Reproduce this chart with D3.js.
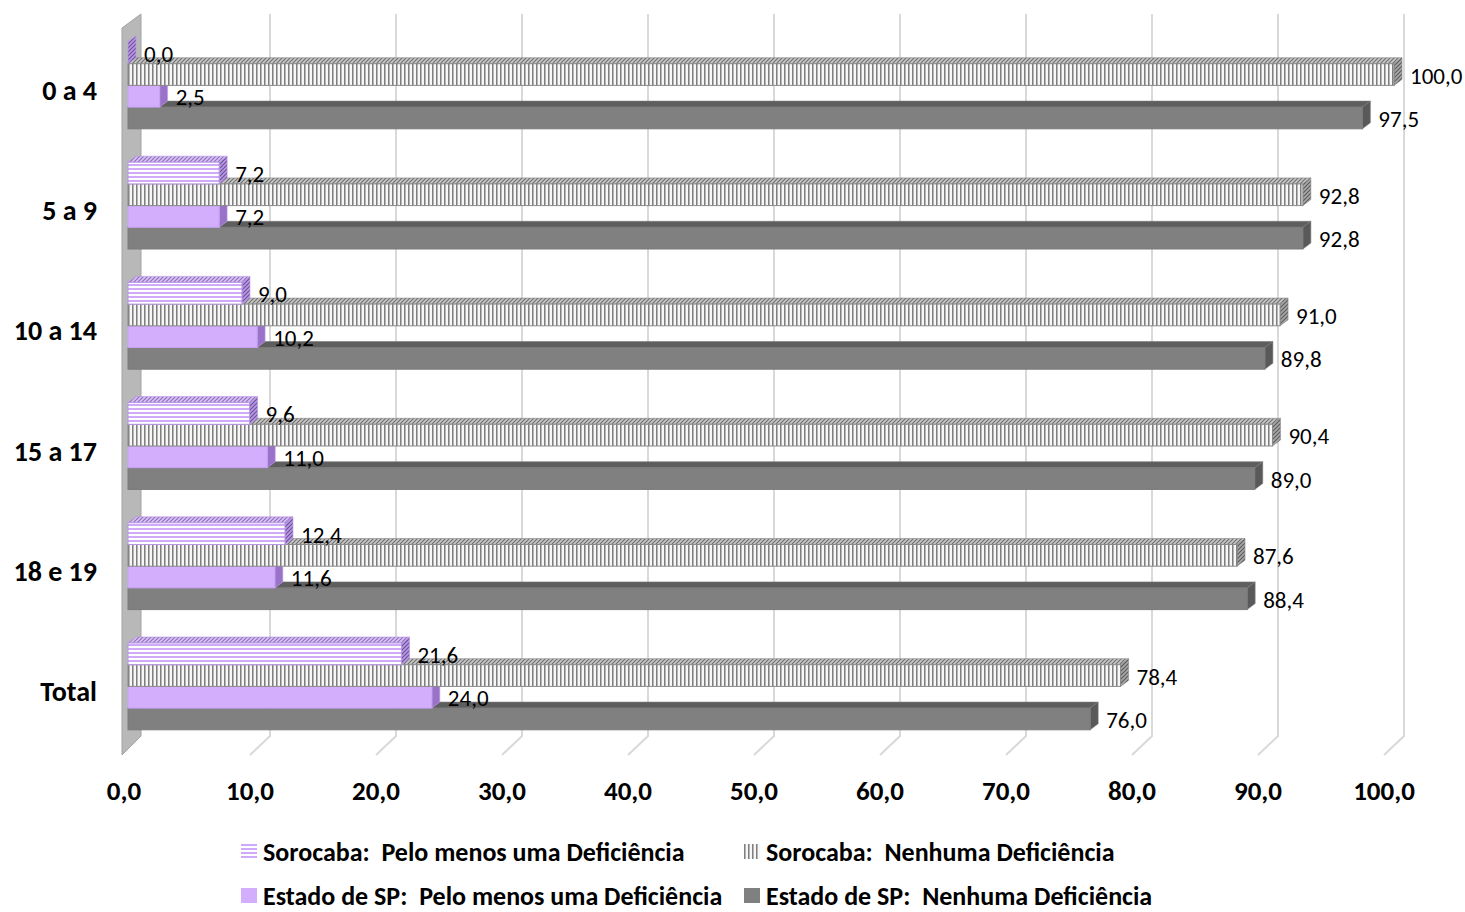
<!DOCTYPE html>
<html><head><meta charset="utf-8">
<script src="https://cdn.jsdelivr.net/npm/d3@7"></script>
<style>
html,body{margin:0;padding:0;background:#fff;}
svg{display:block;font-family:Carlito, Calibri, Lato, "Open Sans", sans-serif;}
</style></head>
<body>
<svg id="chart" width="1465" height="912"></svg>
<script>
const categories = ["0 a 4","5 a 9","10 a 14","15 a 17","18 e 19","Total"];
const seriesNames = [
  "Sorocaba:  Pelo menos uma Deficiência",
  "Sorocaba:  Nenhuma Deficiência",
  "Estado de SP:  Pelo menos uma Deficiência",
  "Estado de SP:  Nenhuma Deficiência"
];
const sorocabaPelo    = [0.0, 7.2, 9.0, 9.6, 12.4, 21.6];
const sorocabaNenhuma = [100.0, 92.8, 91.0, 90.4, 87.6, 78.4];
const spPelo          = [2.5, 7.2, 10.2, 11.0, 11.6, 24.0];
const spNenhuma       = [97.5, 92.8, 89.8, 89.0, 88.4, 76.0];
const tickValues = [0,10,20,30,40,50,60,70,80,90,100];

const seriesValues = [sorocabaPelo, sorocabaNenhuma, spPelo, spNenhuma];

const svg = d3.select("#chart");
const defs = svg.append("defs");

function stripePattern(id, w, h, bg, lines){
  const p = defs.append("pattern").attr("id", id).attr("patternUnits","userSpaceOnUse")
    .attr("width", w).attr("height", h);
  p.append("rect").attr("width", w).attr("height", h).attr("fill", bg);
  lines(p);
}
stripePattern("pHoriz", 4, 4, "#ffffff", p => p.append("rect").attr("y",0).attr("width",4).attr("height",2).attr("fill","#cfaaf8"));
stripePattern("pVert", 4, 4, "#f7f7f7", p => {
  p.append("rect").attr("x",0).attr("width",1).attr("height",4).attr("fill","#7f7f7f");
  p.append("rect").attr("x",1).attr("width",1).attr("height",4).attr("fill","#b5b5b5");
});
function diagPattern(id, bg, fg){
  const p = defs.append("pattern").attr("id", id).attr("patternUnits","userSpaceOnUse")
    .attr("width", 4).attr("height", 4);
  p.append("rect").attr("width",4).attr("height",4).attr("fill",bg);
  p.append("path").attr("d","M-1,1 l2,-2 M0,4 l4,-4 M3,5 l2,-2").attr("stroke",fg).attr("stroke-width",1.2);
}
diagPattern("pDiagPurple", "#d9c4f3", "#8e6cc0");
diagPattern("pDiagPurpleDark", "#b79ae0", "#6f4fa3");
diagPattern("pDiagGray", "#c8c8c8", "#6f6f6f");
diagPattern("pDiagGrayDark", "#a9a9a9", "#5b5b5b");

const styles = [
  {front:"url(#pHoriz)", stroke:"#b896e4", top:"url(#pDiagPurple)", side:"url(#pDiagPurpleDark)", legend:"url(#pHoriz)"},
  {front:"url(#pVert)", stroke:"#8a8a8a", top:"url(#pDiagGray)", side:"url(#pDiagGrayDark)", legend:"url(#pVert)"},
  {front:"#d2aefc", stroke:"#c7a2f3", top:"#ad88dc", side:"#9873c8", legend:"#d2aefc"},
  {front:"#808080", stroke:"#7a7a7a", top:"#5e5e5e", side:"#595959", legend:"#808080"}
];

const xBar   = d3.scaleLinear().domain([0,100]).range([128,1394]);
const xFront = d3.scaleLinear().domain([0,100]).range([124,1384]);
const xBack  = d3.scaleLinear().domain([0,100]).range([144,1404]);
const yCat = d3.scaleBand().domain(categories).range([42, 42 + 5*120.2 + 86.8])
  .paddingInner(1 - 86.8/120.2).paddingOuter(0);
const ySer = d3.scaleBand().domain(d3.range(4)).range([0, yCat.bandwidth()]).padding(0);
const DX = 8, DY = -6;
const floorFrontY = 755, floorBackY = 736, wallTopBack = 14, wallTopFront = 28;

const grid = svg.append("g");
tickValues.forEach(v => {
  if (v === 0) return;
  grid.append("path")
    .attr("d", `M${xBack(v)},${wallTopBack} L${xBack(v)},${floorBackY} L${xFront(v)},${floorFrontY}`)
    .attr("fill","none").attr("stroke","#d9d9d9").attr("stroke-width",2);
});

svg.append("path")
  .attr("d", `M${xFront(0)-2},${wallTopFront} L${xBack(0)-3},${wallTopBack} L${xBack(0)-3},${floorBackY} L${xFront(0)-2},${floorFrontY} Z`)
  .attr("fill","#b8b8b8").attr("stroke","#a3a3a3").attr("stroke-width",1);

const barsG = svg.append("g");
categories.forEach((cat, ci) => {
  for (let si = 3; si >= 0; si--) {
    const v = seriesValues[si][ci];
    const st = styles[si];
    const y0 = yCat(cat) + ySer(si), h = ySer.bandwidth();
    const x0 = xBar(0), x1 = xBar(v);
    barsG.append("path")
      .attr("d", `M${x0},${y0} L${x0+DX},${y0+DY} L${x1+DX},${y0+DY} L${x1},${y0} Z`)
      .attr("fill", st.top).attr("stroke", st.stroke).attr("stroke-width",0.6);
    barsG.append("path")
      .attr("d", `M${x1},${y0} L${x1+DX},${y0+DY} L${x1+DX},${y0+h+DY} L${x1},${y0+h} Z`)
      .attr("fill", st.side).attr("stroke", st.stroke).attr("stroke-width",0.6);
    barsG.append("rect")
      .attr("x", x0).attr("y", y0).attr("width", Math.max(0, x1-x0)).attr("height", h)
      .attr("fill", st.front).attr("stroke", st.stroke).attr("stroke-width",1);
  }
});

const fmt = v => d3.format(".1f")(v).replace(".", ",");
const labelsG = svg.append("g");
categories.forEach((cat, ci) => {
  for (let si = 0; si < 4; si++) {
    const v = seriesValues[si][ci];
    const y0 = yCat(cat) + ySer(si), h = ySer.bandwidth();
    labelsG.append("text")
      .attr("x", xBar(v) + 16).attr("y", y0 + h/2 + 1)
      .attr("dominant-baseline","central")
      .attr("font-size", 23).attr("fill","#000")
      .text(fmt(v));
  }
});

svg.append("g").selectAll("text").data(categories).join("text")
  .attr("x", 97).attr("y", d => yCat(d) + yCat.bandwidth()/2 + 5)
  .attr("text-anchor","end").attr("dominant-baseline","central")
  .attr("font-size", 28).attr("font-weight","bold").text(d => d);

svg.append("g").selectAll("text").data(tickValues).join("text")
  .attr("x", d => xFront(d)).attr("y", 790)
  .attr("text-anchor","middle").attr("dominant-baseline","central")
  .attr("font-size", 27).attr("font-weight","bold").text(d => fmt(d));

const legendPos = [[241,851],[744,851],[241,895],[744,895]];
const leg = svg.append("g");
seriesNames.forEach((name, i) => {
  const [lx, ly] = legendPos[i];
  leg.append("rect").attr("x", lx).attr("y", ly-7).attr("width",16).attr("height",15)
    .attr("fill", styles[i].legend);
  leg.append("text").attr("x", lx+22).attr("y", ly+1)
    .attr("dominant-baseline","central").attr("font-size", 26).attr("font-weight","bold")
    .style("white-space","pre").text(name);
});
</script>
</body></html>
